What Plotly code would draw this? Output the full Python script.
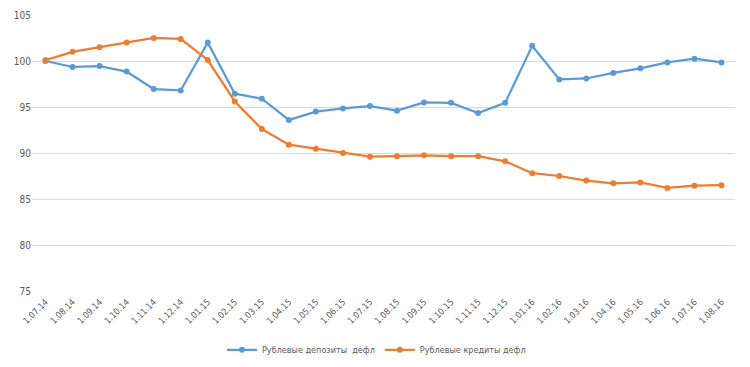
import plotly.graph_objects as go

dates = ["1.07.14", "1.08.14", "1.09.14", "1.10.14", "1.11.14", "1.12.14", "1.01.15",
         "1.02.15", "1.03.15", "1.04.15", "1.05.15", "1.06.15", "1.07.15", "1.08.15",
         "1.09.15", "1.10.15", "1.11.15", "1.12.15", "1.01.16", "1.02.16", "1.03.16",
         "1.04.16", "1.05.16", "1.06.16", "1.07.16", "1.08.16"]

deposits = [100.0, 99.35, 99.45, 98.85, 96.95, 96.8, 102.0, 96.45, 95.9, 93.6, 94.5, 94.85,
            95.1, 94.6, 95.5, 95.45, 94.35, 95.45, 101.65, 98.0, 98.1, 98.7, 99.2, 99.85,
            100.25, 99.85]

credits = [100.1, 101.0, 101.5, 102.0, 102.5, 102.4, 100.1, 95.6, 92.6, 90.9, 90.45, 90.0,
           89.6, 89.65, 89.75, 89.65, 89.65, 89.1, 87.8, 87.5, 87.0, 86.7, 86.8, 86.2,
           86.45, 86.5]

names = ["Рублевые депозиты  дефл", "Рублевые кредиты дефл"]
colors = ["#5B9BD5", "#ED7D31"]

fig = go.Figure()
for name, vals, col in zip(names, [deposits, credits], colors):
    fig.add_trace(go.Scatter(
        x=list(range(len(dates))), y=vals, name=name, mode="lines+markers",
        line=dict(color=col, width=2.25),
        marker=dict(color=col, size=6),
    ))

font_family = "Liberation Sans Narrow, DejaVu Sans Condensed, Liberation Sans, sans-serif"

# page body has an 8px default margin on every side; size the figure so the page is 750x367
fig.update_layout(
    width=734, height=351,
    margin=dict(l=24, r=7, t=7, b=68),
    plot_bgcolor="white", paper_bgcolor="white",
    font=dict(family=font_family, size=10, color="#595959"),
    showlegend=True,
    legend=dict(orientation="h", x=0.502, xanchor="center", xref="container",
                y=0.026, yanchor="middle", yref="container",
                font=dict(size=9, color="#595959"), itemwidth=30),
    xaxis=dict(
        tickmode="array", tickvals=list(range(len(dates))), ticktext=dates,
        range=[-0.5, len(dates) - 0.5], tickangle=-45, automargin=False,
        ticklabelstandoff=3,
        showgrid=False, zeroline=False, showline=False, ticks="",
        tickfont=dict(size=9, color="#595959"),
    ),
    yaxis=dict(
        range=[75, 105], dtick=5, tick0=75, automargin=False,
        showgrid=True, gridcolor="#D9D9D9", gridwidth=1,
        zeroline=False, showline=False, ticks="",
        tickfont=dict(size=10, color="#595959"),
    ),
)

fig.write_html("out.html")
